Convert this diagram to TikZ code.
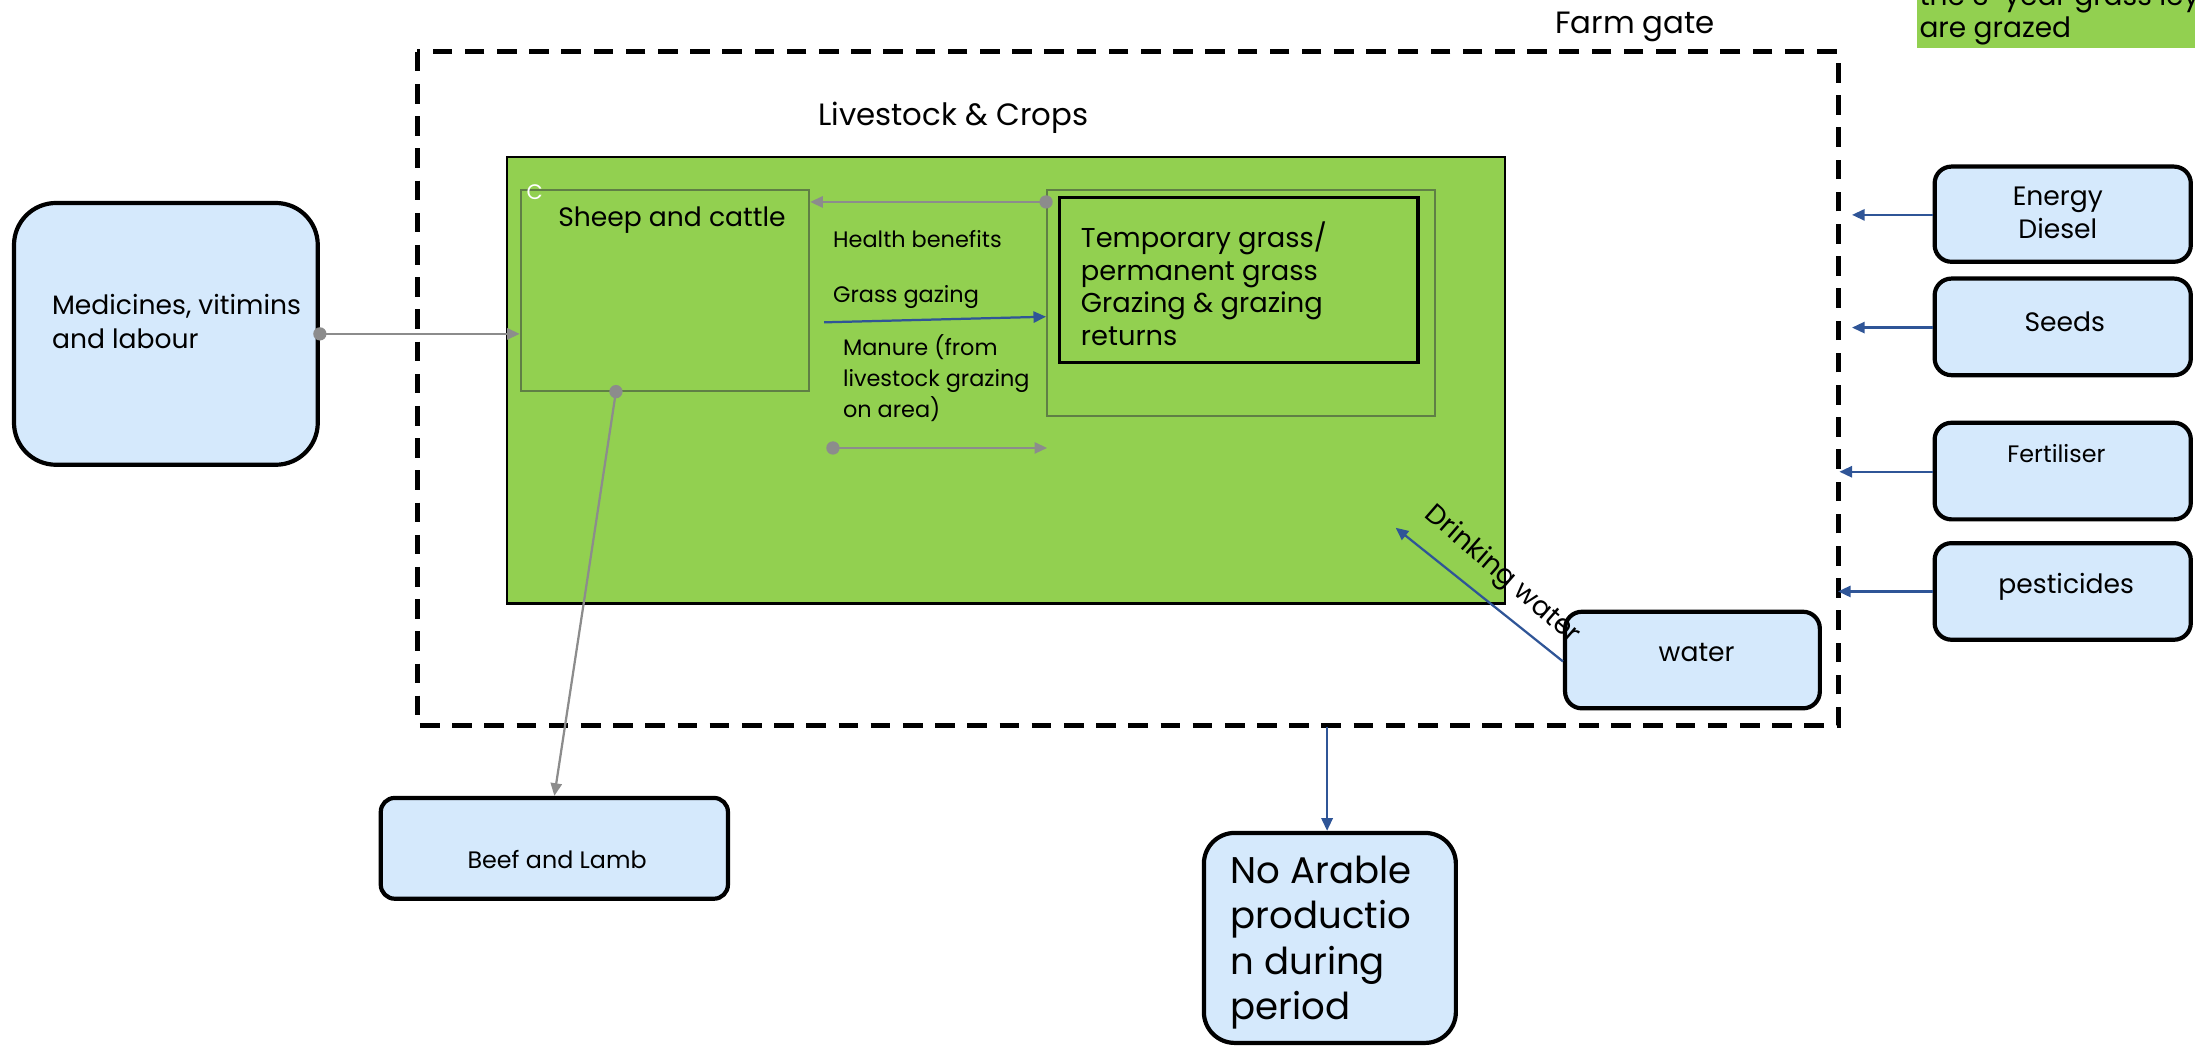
\documentclass[tikz,border=0pt]{standalone}
\usepackage{fontspec}
\setmainfont{Poppins}
\usetikzlibrary{arrows.meta,calc}
\definecolor{leaf}{HTML}{92D050}
\definecolor{paleblue}{HTML}{D5E9FC}
\definecolor{flowgray}{HTML}{8C8C8C}
\definecolor{flowblue}{HTML}{2F5597}
\definecolor{edgegreen}{HTML}{5F7F45}
\newcommand{\fsz}[2]{\fontsize{#1}{#2}\selectfont}
\tikzset{
  inbox/.style={draw=black, line width=3pt, fill=paleblue, rounded corners=12pt, inner sep=0pt},
  subbox/.style={draw=edgegreen, line width=1.5pt, inner sep=0pt},
  gateline/.style={draw=black, line width=3.5pt, dash pattern=on 14pt off 9pt},
  grayflow/.style={draw=flowgray, line width=1.6pt, -{Triangle[length=9pt,width=8pt]}},
  blueflow/.style={draw=flowblue, line width=1.6pt, -{Triangle[length=9pt,width=8pt]}},
  startdot/.style={fill=flowgray, circle, minimum size=9.5pt, inner sep=0pt},
  lbl/.style={inner sep=0pt, text=black},
}
\begin{document}
\begin{tikzpicture}[x=1pt,y=-1pt]
\useasboundingbox (0,0) rectangle (1568,750);
\clip (0,0) rectangle (1568,750);

% note panel in the corner
\node[fill=leaf, minimum width=230, minimum height=45, inner sep=0pt, anchor=north west] (note) at (1369,-11) {};
\node[lbl, anchor=base west, font={\fsz{20}{24}}] (noteA) at (1371,4) {the 3-year grass ley that};
\node[lbl, anchor=base west, font={\fsz{20}{24}}] (noteB) at (1371,27) {are grazed};

% farm gate boundary
\draw[gateline] (298,37) rectangle (1313,518);
\node[lbl, font={\fsz{22}{26}}] (gatelbl) at (1168,19) {Farm gate};

% livestock and crops area
\node[lbl, font={\fsz{22}{26}}] (lclbl) at (681,84) {Livestock \& Crops};
\node[draw=black, line width=1.8pt, fill=leaf, minimum width=713, minimum height=319, inner sep=0pt] (field) at (718.5,271.5) {};

\node[subbox, minimum width=206, minimum height=143] (sheep) at (475,207.5) {};
\node[lbl, text=white, font={\fsz{15}{16}}] (cmark) at (382,137) {C};
\node[lbl, font={\fsz{19}{22}}] (sheeplbl) at (480,157) {Sheep and cattle};

\node[subbox, minimum width=277, minimum height=161] (grassout) at (886.5,216.5) {};
\node[draw=black, line width=2.5pt, minimum width=256, minimum height=118, inner sep=0pt] (grassin) at (885,200) {};
\node[lbl, anchor=north west, align=left, font={\fsz{19.5}{23.5}}] (grasslbl) at (772,158) {Temporary grass/\\permanent grass\\Grazing \& grazing\\returns};

\node[lbl, anchor=west, font={\fsz{16}{20}}] (health) at (595,171) {Health benefits};
\node[lbl, anchor=west, font={\fsz{16}{20}}] (gazing) at (595,212) {Grass gazing};
\node[lbl, anchor=north west, align=left, font={\fsz{16}{22}}] (manure) at (602,239) {Manure (from\\livestock grazing\\on area)};

\draw[grayflow] ([yshift=-9pt]grassout.north west) -- ([yshift=-9pt]sheep.north east);
\node[startdot] (hdot) at ([yshift=-9pt]grassout.north west) {};
\draw[blueflow] ([xshift=10pt,yshift=-95pt]sheep.north east) -- ([yshift=-91pt]grassout.north west);
\coordinate (manS) at (595,320);
\coordinate (manE) at (748,320);
\draw[grayflow] (manS) -- (manE);
\node[startdot] (mdot) at (manS) {};

% inputs on the left
\node[inbox, rounded corners=30pt, minimum width=217, minimum height=187] (med) at (118.5,238.5) {};
\node[lbl, anchor=north west, align=left, font={\fsz{19}{24}}] (medlbl) at (37,210) {Medicines, vitimins\\and labour};
\draw[grayflow] (med.east) -- (sheep.west |- med.east);
\node[startdot] (meddot) at (med.east) {};

% outputs below
\node[inbox, rounded corners=10pt, minimum width=248, minimum height=72] (beef) at (396,606) {};
\node[lbl, font={\fsz{17}{20}}] (beeflbl) at (398,614) {Beef and Lamb};
\draw[grayflow] ([xshift=-35pt]sheep.south) -- (beef.north);
\node[startdot] (sdot) at ([xshift=-35pt]sheep.south) {};

\node[inbox, rounded corners=22pt, minimum width=180, minimum height=150] (noarable) at (950,670) {};
\node[lbl, anchor=north west, align=left, font={\fsz{26.5}{32.5}}] (noarablelbl) at (879,611) {No Arable\\productio\\n during\\period};
\coordinate (gateS) at (948,519);
\draw[blueflow] (gateS) -- (gateS |- noarable.north);

% bought-in inputs on the right
\node[inbox, minimum width=183, minimum height=68] (energy) at (1473.5,153) {};
\node[lbl, align=center, font={\fsz{19}{24}}] (energylbl) at (1470,152) {Energy\\Diesel};
\node[inbox, minimum width=183, minimum height=69] (seeds) at (1473.5,233.5) {};
\node[lbl, font={\fsz{19}{22}}] (seedslbl) at (1475,230) {Seeds};
\node[inbox, minimum width=183, minimum height=69] (fert) at (1473.5,336.5) {};
\node[lbl, font={\fsz{17}{20}}] (fertlbl) at (1469,324) {Fertiliser};
\node[inbox, minimum width=183, minimum height=69] (pest) at (1473.5,422.5) {};
\node[lbl, font={\fsz{19}{22}}] (pestlbl) at (1476,419) {pesticides};

\coordinate (gE) at (1323,153.5);
\coordinate (gS) at (1323,234);
\coordinate (gF) at (1314,337);
\coordinate (gP) at (1313,422.5);
\draw[blueflow] (energy.west |- gE) -- (gE);
\draw[blueflow] (seeds.west |- gS) -- (gS);
\draw[blueflow] (fert.west |- gF) -- (gF);
\draw[blueflow] (pest.west |- gP) -- (gP);

% water supply
\node[inbox, minimum width=182, minimum height=69] (water) at (1209,471.5) {};
\node[lbl, font={\fsz{19}{22}}] (waterlbl) at (1212,466) {water};
\coordinate (drink) at (997,377);
\draw[blueflow] ([yshift=-1pt]water.west) -- (drink);
\node[lbl, rotate=-41, font={\fsz{19.5}{22}}] (drinklbl) at (1073,411) {Drinking water};
\end{tikzpicture}
\end{document}
